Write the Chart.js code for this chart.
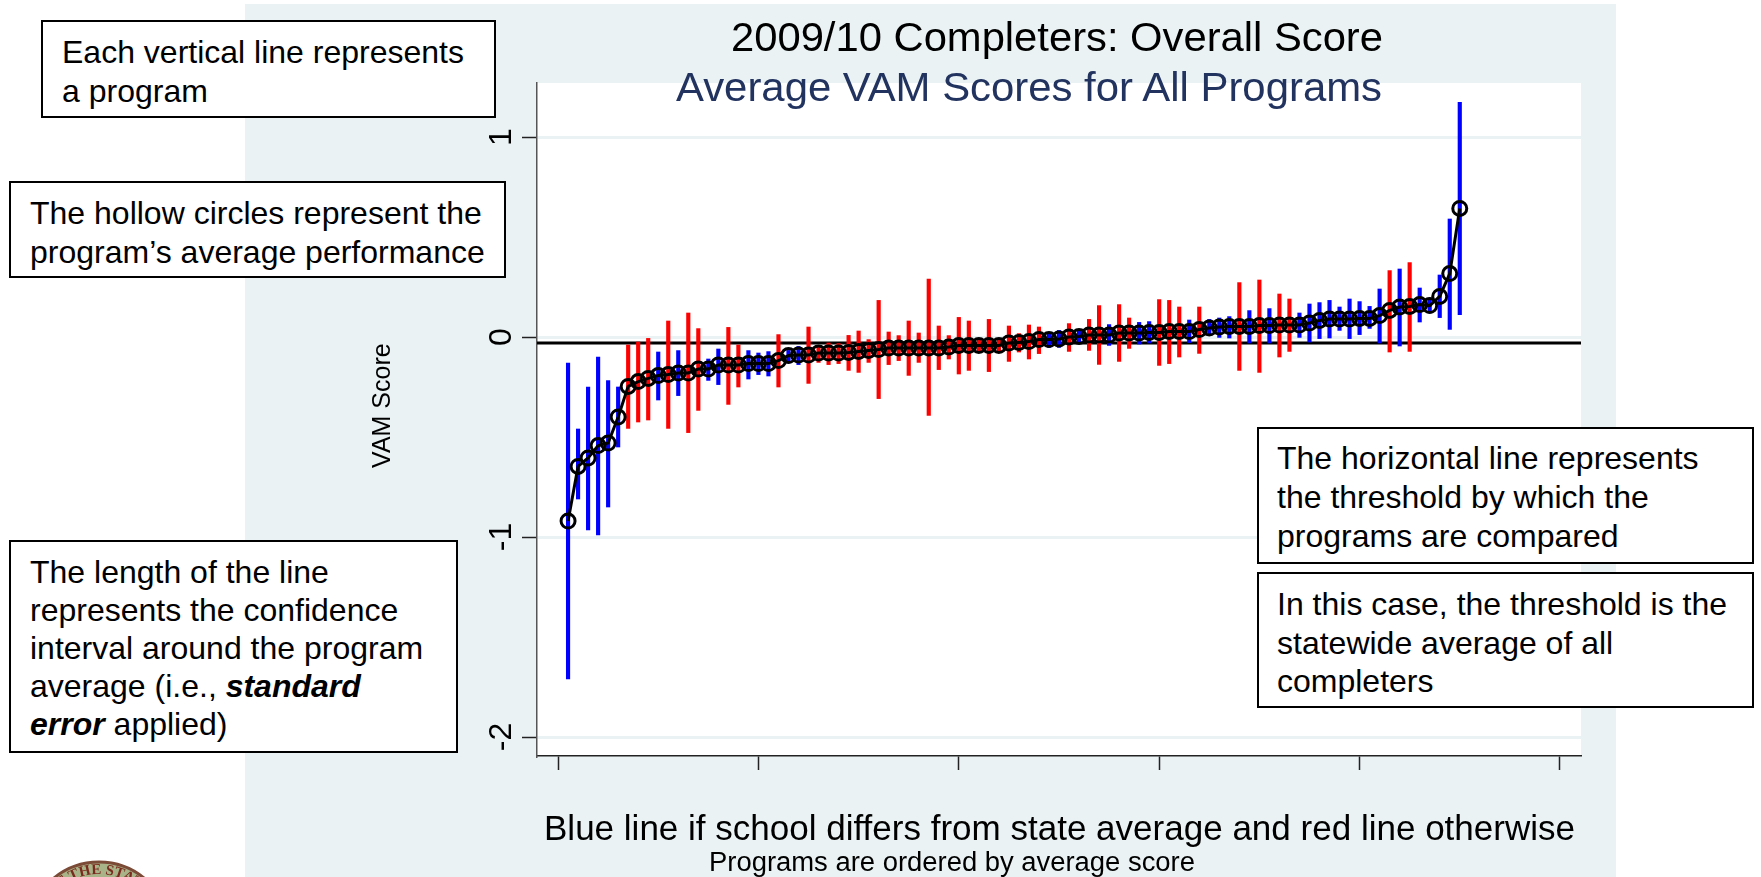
<!DOCTYPE html>
<html>
<head>
<meta charset="utf-8">
<title>2009/10 Completers: Overall Score</title>
<script src="https://cdn.jsdelivr.net/npm/chart.js@4/dist/chart.umd.min.js"></script>
<style>
html,body{margin:0;padding:0;background:#fff;overflow:hidden;width:1761px;height:877px;font-family:"Liberation Sans",Arial,sans-serif;color:#000}
#panel{position:absolute;left:245px;top:4px;width:1371px;height:873px;background:#EAF2F3}
#chartWrap{position:absolute;left:0;top:0;width:1761px;height:877px}
.box{position:absolute;box-sizing:border-box;background:#fff;border:2.5px solid #000;font-size:32px;line-height:38.5px;white-space:nowrap}
.fit{position:absolute;white-space:nowrap;transform-origin:0 50%;line-height:40px;height:40px}
#seal{position:absolute;left:26px;top:860px}
</style>
</head>
<body>
<div id="panel"></div>
<div id="chartWrap"><canvas id="c" width="1761" height="877"></canvas></div>

<div class="fit" data-w="652" style="left:731px;top:17px;font-size:41px">2009/10 Completers: Overall Score</div>
<div class="fit" data-w="706" style="left:676px;top:67px;font-size:41px;color:#22335F">Average VAM Scores for All Programs</div>
<div class="fit" data-w="1031" style="left:544px;top:808px;font-size:35px">Blue line if school differs from state average and red line otherwise</div>
<div class="fit" data-w="486" style="left:709px;top:842px;font-size:27px">Programs are ordered by average score</div>

<div class="box" style="left:41px;top:20px;width:455px;height:98px;padding:11px 0 0 19px">Each vertical line represents<br>a program</div>
<div class="box" style="left:9px;top:181px;width:497px;height:97px;padding:11px 0 0 19px">The hollow circles represent the<br>program’s average performance</div>
<div class="box" style="left:9px;top:540px;width:449px;height:213px;padding:11px 0 0 19px;line-height:38px">The length of the line<br>represents the confidence<br>interval around the program<br>average (i.e., <b><i>standard</i></b><br><b><i>error</i></b> applied)</div>
<div class="box" style="left:1257px;top:427px;width:497px;height:137px;padding:10px 0 0 18px;line-height:39px">The horizontal line represents<br>the threshold by which the<br>programs are compared</div>
<div class="box" style="left:1257px;top:572px;width:497px;height:136px;padding:11px 0 0 18px">In this case, the threshold is the<br>statewide average of all<br>completers</div>

<svg id="seal" width="146" height="17" viewBox="0 0 146 17">
  <defs><path id="arc" d="M 14 73 A 59 59 0 0 1 132 73"/></defs>
  <circle cx="73" cy="73" r="71" fill="#A9B388" stroke="#7C4B38" stroke-width="3"/>
  <text font-family="Liberation Serif" font-weight="bold" font-size="15" fill="#7A2A1E"><textPath href="#arc" startOffset="50%" text-anchor="middle">OF THE STATE</textPath></text>
</svg>

<script>
const programRank = [1,2,3,4,5,6,7,8,9,10,11,12,13,14,15,16,17,18,19,20,21,22,23,24,25,26,27,28,29,30,31,32,33,34,35,36,37,38,39,40,41,42,43,44,45,46,47,48,49,50,51,52,53,54,55,56,57,58,59,60,61,62,63,64,65,66,67,68,69,70,71,72,73,74,75,76,77,78,79,80,81,82,83,84,85,86,87,88,89,90];
const meanScore = [-0.92,-0.647,-0.605,-0.543,-0.53,-0.40,-0.247,-0.223,-0.207,-0.193,-0.188,-0.18,-0.18,-0.16,-0.16,-0.14,-0.14,-0.14,-0.133,-0.133,-0.133,-0.118,-0.093,-0.09,-0.09,-0.08,-0.08,-0.08,-0.077,-0.072,-0.067,-0.063,-0.055,-0.055,-0.055,-0.055,-0.055,-0.055,-0.05,-0.042,-0.042,-0.042,-0.042,-0.042,-0.03,-0.027,-0.023,-0.013,-0.013,-0.01,0,0.003,0.01,0.01,0.01,0.02,0.02,0.02,0.023,0.023,0.028,0.028,0.027,0.037,0.045,0.05,0.053,0.053,0.053,0.057,0.057,0.06,0.06,0.06,0.07,0.083,0.09,0.09,0.09,0.093,0.093,0.107,0.133,0.15,0.153,0.162,0.157,0.203,0.317,0.643];
const upperBound = [-0.13,-0.46,-0.25,-0.10,-0.218,-0.25,-0.04,-0.025,-0.007,-0.075,0.08,-0.068,0.12,0.042,-0.11,-0.06,0.048,-0.04,-0.068,-0.08,-0.073,0.012,-0.067,-0.047,0.05,-0.047,-0.03,-0.033,0.008,0.03,-0.013,0.183,0.025,0.007,0.08,0.02,0.29,0.055,0.007,0.098,0.08,-0.013,0.088,0,0.055,0.017,0.06,0.05,0.017,0.033,0.067,0.033,0.088,0.157,0.062,0.162,0.095,0.073,0.077,0.187,0.183,0.15,0.085,0.15,0.088,0.095,0.102,0.272,0.132,0.285,0.142,0.215,0.19,0.12,0.165,0.172,0.183,0.15,0.19,0.177,0.153,0.24,0.332,0.34,0.372,0.245,0.195,0.31,0.59,1.173];
const lowerBound = [-1.71,-0.81,-0.965,-0.99,-0.85,-0.55,-0.457,-0.425,-0.415,-0.315,-0.457,-0.293,-0.478,-0.367,-0.217,-0.238,-0.337,-0.25,-0.21,-0.188,-0.195,-0.25,-0.13,-0.138,-0.232,-0.127,-0.138,-0.133,-0.167,-0.177,-0.127,-0.308,-0.138,-0.118,-0.192,-0.127,-0.392,-0.163,-0.11,-0.185,-0.167,-0.072,-0.173,-0.07,-0.122,-0.075,-0.11,-0.083,-0.052,-0.052,-0.072,-0.027,-0.067,-0.137,-0.042,-0.122,-0.057,-0.035,-0.03,-0.142,-0.133,-0.10,-0.028,-0.082,0,-0.002,-0.005,-0.167,-0.03,-0.177,-0.03,-0.10,-0.072,-0.002,-0.025,-0.008,-0.005,0.033,-0.008,0.012,0.043,-0.03,-0.075,-0.045,-0.072,0.075,0.12,0.097,0.038,0.112];
const differsFlag = [
  "B","B","B","B","B","B","R","R","R","B",
  "R","B","R","R","B","B","R","R","B","B",
  "B","R","B","B","R","R","R","R","R","R",
  "R","R","R","R","R","R","R","R","R","R",
  "R","R","R","R","R","R","R","R","B","B",
  "R","B","R","R","B","R","R","B","B","R",
  "R","R","B","R","B","B","B","R","B","R",
  "B","R","R","B","B","B","B","B","B","B",
  "B","B","R","B","R","B","B","B","B","B"];
const stateThreshold = -0.03;
const thresholdSpan = [-2.1,102.1];
const yTickStep = 1;
const xTickStep = 20;

const C = {B:"#0000FF", R:"#FF0000"};
const panelColor = "#EAF2F3";

const plotBackground = {
  id:"plotBackground",
  beforeDraw(chart){
    const a = chart.chartArea, ctx = chart.ctx;
    ctx.save(); ctx.fillStyle = "#fff"; ctx.fillRect(a.left,a.top,a.right-a.left,a.bottom-a.top); ctx.restore();
  }
};

new Chart(document.getElementById("c"),{
  type:"bar",
  plugins:[plotBackground],
  data:{
    datasets:[
      {
        type:"line",
        label:"Threshold",
        data:thresholdSpan.map(x=>({x,y:stateThreshold})),
        borderColor:"#000",borderWidth:3,pointRadius:0,order:3
      },
      {
        type:"bar",
        label:"Confidence interval",
        data:programRank.map((x,i)=>({x,y:[lowerBound[i],upperBound[i]]})),
        backgroundColor:differsFlag.map(f=>C[f]),
        barThickness:3.5,borderWidth:0,order:2
      },
      {
        type:"line",
        label:"Average VAM score",
        data:programRank.map((x,i)=>({x,y:meanScore[i]})),
        borderColor:"#000",borderWidth:3,
        pointRadius:7,pointStyle:"circle",pointBorderColor:"#000",pointBorderWidth:3,
        pointBackgroundColor:"rgba(0,0,0,0)",tension:0,order:1
      }
    ]
  },
  options:{
    responsive:false,animation:false,devicePixelRatio:1,
    layout:{padding:{left:0,top:83,right:180,bottom:106}},
    plugins:{legend:{display:false},tooltip:{enabled:false},title:{display:false}},
    scales:{
      x:{
        type:"linear",offset:false,min:thresholdSpan[0],max:thresholdSpan[1],
        afterFit(s){s.height=15;},
        ticks:{display:false,stepSize:xTickStep,includeBounds:false},
        grid:{display:true,drawOnChartArea:false,offset:false,drawTicks:true,tickLength:14,tickColor:"#222",tickWidth:1.5,color:"#222"},
        border:{display:true,color:"#222",width:1.5}
      },
      y:{
        type:"linear",min:-2.095,max:1.27,
        afterFit(s){s.width=537;},
        ticks:{stepSize:yTickStep,includeBounds:false,minRotation:90,maxRotation:90,crossAlign:"center",padding:6,color:"#000",font:{family:"Liberation Sans",size:32}},
        grid:{color:panelColor,lineWidth:3,tickColor:"#222",tickWidth:1.5,tickLength:15},
        border:{display:true,color:"#555",width:1.5},
        title:{display:true,text:"\u00A0\u00A0\u00A0\u00A0VAM Score",color:"#000",font:{family:"Liberation Sans",size:25},padding:{top:368,bottom:0}}
      }
    }
  }
});

document.querySelectorAll(".fit").forEach(el=>{
  const natural = el.getBoundingClientRect().width;
  el.style.transform = "scaleX("+(Number(el.dataset.w)/natural)+")";
});
</script>
</body>
</html>
